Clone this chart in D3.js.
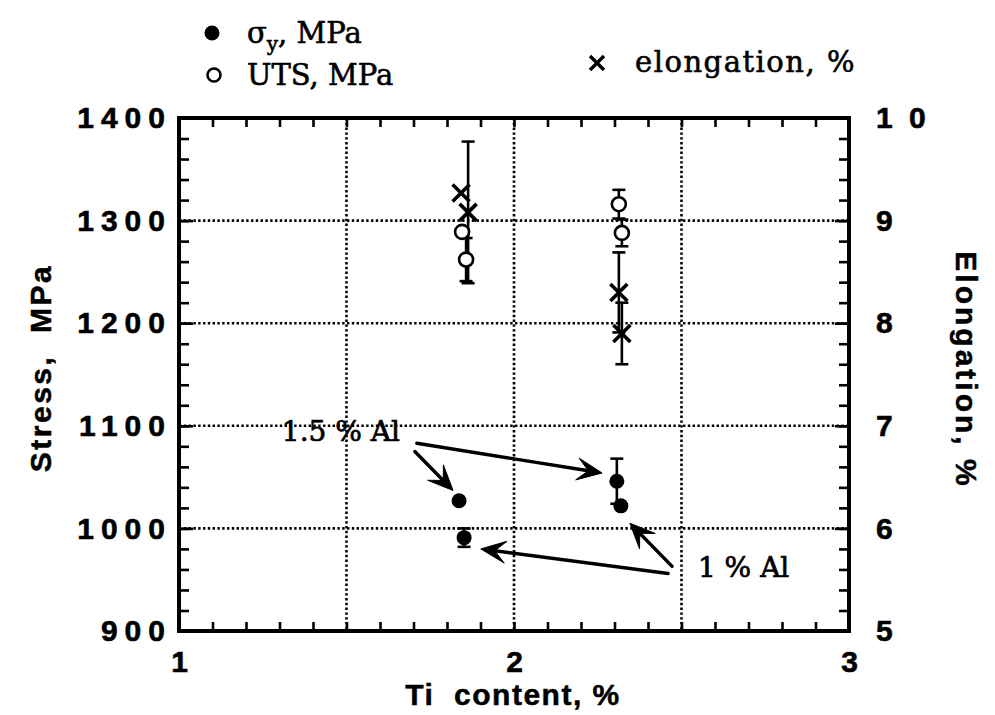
<!DOCTYPE html>
<html>
<head>
<meta charset="utf-8">
<script src="https://cdn.jsdelivr.net/npm/d3@7"></script>
<style>
  body { margin: 0; background: #fff; }
  svg { display: block; }
</style>
</head>
<body>
<svg id="chart" width="995" height="715"></svg>
<script>
// Yield strength (MPa) against Ti content (%)
const yieldTi = [1.836, 1.851, 2.307, 2.319];
const yieldStress = [1027, 991, 1046, 1022];
const yieldErr = [0, 9, 22, 0];

// Ultimate tensile strength (MPa)
const utsTi = [1.845, 1.857, 2.313, 2.322];
const utsStress = [1289, 1262, 1316, 1288];
const utsErr = [0, 21, 14, 13];

// Elongation (%) on the right-hand axis
const elongTi = [1.842, 1.863, 2.313, 2.322];
const elongation = [9.27, 9.08, 8.30, 7.90];
const elongErr = [0, 0.69, 0.39, 0.30];

// Axis ticks and grid
const xTicks = [1, 2, 3];
const stressTicks = [900, 1000, 1100, 1200, 1300, 1400];
const elongTicks = [5, 6, 7, 8, 9, 10];
const xGrid = [1.5, 2, 2.5];
const stressGrid = [1000, 1100, 1200, 1300];

// Al-content call-outs: text anchor and arrows [tailTi, tailStress, tipTi, tipStress]
const calloutText = ["1.5 % Al", "1 % Al"];
const calloutTi = [1.307, 2.549];
const calloutStress = [1085, 952.6];
const calloutArrows = [
  [1.704, 1075, 1.818, 1037],
  [1.710, 1083, 2.263, 1054],
  [2.472, 963, 2.346, 1005],
  [2.460, 956, 1.901, 980]
];

const svg = d3.select("#chart");
const L = 179, R = 849, T = 118, B = 631;

const x = d3.scaleLinear().domain([1, 3]).range([L, R]);
const yS = d3.scaleLinear().domain([900, 1400]).range([B, T]);
const yE = d3.scaleLinear().domain([5, 10]).range([B, T]);

const sans = "'Liberation Sans', Arial, Helvetica, sans-serif";
const serif = "'DejaVu Serif', 'Liberation Serif', serif";

// dotted grid
const grid = svg.append("g").attr("stroke", "#000").attr("stroke-width", 2.6)
  .attr("stroke-dasharray", "2.4 2.4");
grid.selectAll("line.v").data(xGrid).join("line").attr("class", "v")
  .attr("x1", d => x(d)).attr("x2", d => x(d)).attr("y1", T).attr("y2", B);
grid.selectAll("line.h").data(stressGrid).join("line").attr("class", "h")
  .attr("x1", L).attr("x2", R).attr("y1", d => yS(d)).attr("y2", d => yS(d));

// axes: ticks point into the plot
function styleAxis(g) {
  g.select(".domain").remove();
  g.selectAll(".tick line").attr("stroke", "#000").attr("stroke-width", 2.6);
  g.selectAll(".tick text").attr("fill", "#000").attr("font-family", sans)
    .attr("font-weight", "bold").attr("font-size", 30)
    .attr("stroke", "#000").attr("stroke-width", 0.6);
}

const minorX = d3.range(1, 3.0001, 0.1).map(v => +v.toFixed(2));
const minorS = d3.range(900, 1400.1, 20);
const minorE = d3.range(5, 10.001, 0.2).map(v => +v.toFixed(2));

svg.append("g").attr("transform", `translate(0,${B})`)
  .call(d3.axisBottom(x).tickValues(minorX).tickSize(-9).tickFormat(""))
  .call(styleAxis);
svg.append("g").attr("transform", `translate(0,${T})`)
  .call(d3.axisTop(x).tickValues(minorX).tickSize(-9).tickFormat(""))
  .call(styleAxis);
svg.append("g").attr("transform", `translate(0,${B})`)
  .call(d3.axisBottom(x).tickValues(xTicks).tickSize(0).tickPadding(20).tickFormat(d3.format("d")))
  .call(styleAxis);

svg.append("g").attr("transform", `translate(${L},0)`)
  .call(d3.axisLeft(yS).tickValues(minorS).tickSize(-10).tickFormat(""))
  .call(styleAxis);
svg.append("g").attr("transform", `translate(${L},0)`)
  .call(d3.axisLeft(yS).tickValues(stressTicks).tickSize(-14).tickPadding(7).tickFormat(d3.format("d")))
  .call(styleAxis)
  .call(g => g.selectAll(".tick text").attr("letter-spacing", 7));

// right-hand labels are set with spaced digits ("1 0")
const spacedDigits = d => String(d).split("").join(" ");
svg.append("g").attr("transform", `translate(${R},0)`)
  .call(d3.axisRight(yE).tickValues(minorE).tickSize(-10).tickFormat(""))
  .call(styleAxis);
svg.append("g").attr("transform", `translate(${R},0)`)
  .call(d3.axisRight(yE).tickValues(elongTicks).tickSize(-14).tickPadding(27).tickFormat(spacedDigits))
  .call(styleAxis)
  .call(g => g.selectAll(".tick text").attr("letter-spacing", 4).attr("xml:space", "preserve"));

// frame
svg.append("rect").attr("x", L).attr("y", T).attr("width", R - L).attr("height", B - T)
  .attr("fill", "none").attr("stroke", "#000").attr("stroke-width", 4);

// axis titles
const titleStyle = t => t.attr("font-family", sans).attr("font-weight", "bold").attr("font-size", 30)
  .attr("fill", "#000").attr("stroke", "#000").attr("stroke-width", 0.5).attr("text-anchor", "middle");
svg.append("text").attr("x", 513).attr("y", 705).call(titleStyle)
  .attr("letter-spacing", 1.5).attr("xml:space", "preserve").text("Ti  content, %");
svg.append("text").attr("transform", "translate(51,368) rotate(-90)").call(titleStyle)
  .attr("letter-spacing", 2.5).attr("xml:space", "preserve").text("Stress,  MPa");
svg.append("text").attr("transform", "translate(956,370) rotate(90)").call(titleStyle)
  .attr("letter-spacing", 3).text("Elongation, %");

// error bars
function errorBars(tiArr, valArr, errArr, yScale, cls) {
  const idx = d3.range(tiArr.length).filter(i => errArr[i] > 0);
  const g = svg.append("g").attr("class", cls).attr("stroke", "#000").attr("stroke-width", 2.6);
  idx.forEach(i => {
    const cx = x(tiArr[i]);
    const y1 = yScale(valArr[i] + errArr[i]);
    const y2 = yScale(valArr[i] - errArr[i]);
    g.append("line").attr("x1", cx).attr("x2", cx).attr("y1", y1).attr("y2", y2);
    g.append("line").attr("x1", cx - 6.5).attr("x2", cx + 6.5).attr("y1", y1).attr("y2", y1);
    g.append("line").attr("x1", cx - 6.5).attr("x2", cx + 6.5).attr("y1", y2).attr("y2", y2);
  });
}
errorBars(elongTi, elongation, elongErr, yE, "err-elong");
errorBars(utsTi, utsStress, utsErr, yS, "err-uts");
errorBars(yieldTi, yieldStress, yieldErr, yS, "err-yield");

// markers
svg.append("g").selectAll("circle").data(d3.range(utsTi.length)).join("circle")
  .attr("cx", i => x(utsTi[i])).attr("cy", i => yS(utsStress[i])).attr("r", 7)
  .attr("fill", "#fff").attr("stroke", "#000").attr("stroke-width", 2.6);

svg.append("g").selectAll("circle").data(d3.range(yieldTi.length)).join("circle")
  .attr("cx", i => x(yieldTi[i])).attr("cy", i => yS(yieldStress[i])).attr("r", 7.5)
  .attr("fill", "#000");

const crossPath = (cx, cy, h) => `M${cx - h},${cy - h}L${cx + h},${cy + h}M${cx - h},${cy + h}L${cx + h},${cy - h}`;
svg.append("g").selectAll("path").data(d3.range(elongTi.length)).join("path")
  .attr("d", i => crossPath(x(elongTi[i]), yE(elongation[i]), 8.5))
  .attr("stroke", "#000").attr("stroke-width", 3.6).attr("fill", "none");

// call-out arrows
const arrowG = svg.append("g");
calloutArrows.forEach(a => {
  const x1 = x(a[0]), y1 = yS(a[1]), x2 = x(a[2]), y2 = yS(a[3]);
  const ang = Math.atan2(y2 - y1, x2 - x1);
  const len = 25, half = 11, notch = 14;
  const back = (d, s) => [x2 - d * Math.cos(ang) - s * Math.sin(ang), y2 - d * Math.sin(ang) + s * Math.cos(ang)];
  const n = back(notch, 0);
  arrowG.append("line").attr("x1", x1).attr("y1", y1).attr("x2", n[0]).attr("y2", n[1])
    .attr("stroke", "#000").attr("stroke-width", 3.4).attr("stroke-linecap", "round");
  const p1 = back(len, half), p2 = back(len, -half);
  arrowG.append("path").attr("d", `M${x2},${y2}L${p1[0]},${p1[1]}L${n[0]},${n[1]}L${p2[0]},${p2[1]}Z`)
    .attr("fill", "#000").attr("stroke", "#000").attr("stroke-width", 1).attr("stroke-linejoin", "round");
});

svg.append("g").selectAll("text").data(d3.range(calloutText.length)).join("text")
  .attr("x", i => x(calloutTi[i])).attr("y", i => yS(calloutStress[i]))
  .attr("font-family", serif).attr("font-size", 28).attr("fill", "#000")
  .attr("stroke", "#000").attr("stroke-width", 0.7)
  .text(i => calloutText[i]);

// legend
const leg = svg.append("g").attr("font-family", serif).attr("font-size", 29).attr("fill", "#000");
leg.append("circle").attr("cx", 212).attr("cy", 33).attr("r", 7.5).attr("fill", "#000");
const sy = leg.append("text").attr("x", 247).attr("y", 43).attr("stroke", "#000").attr("stroke-width", 0.6);
sy.append("tspan").text("σ");
sy.append("tspan").attr("dy", 8).attr("font-size", 20).text("y");
sy.append("tspan").attr("dy", -8).text(", MPa");

leg.append("circle").attr("cx", 214).attr("cy", 75).attr("r", 6.5)
  .attr("fill", "#fff").attr("stroke", "#000").attr("stroke-width", 2.6);
leg.append("text").attr("x", 247).attr("y", 85).attr("stroke", "#000").attr("stroke-width", 0.6)
  .text("UTS, MPa");

leg.append("path").attr("d", crossPath(597, 63, 7)).attr("stroke", "#000")
  .attr("stroke-width", 3.4).attr("fill", "none");
leg.append("text").attr("x", 635).attr("y", 72).attr("letter-spacing", 1.5)
  .attr("stroke", "#000").attr("stroke-width", 0.6).text("elongation, %");
</script>
</body>
</html>
